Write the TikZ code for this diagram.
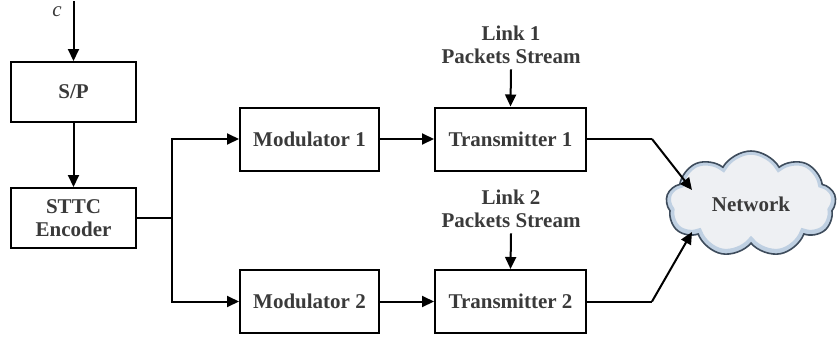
\documentclass[tikz,border=0pt]{standalone}
\usepackage{fontspec}
\setmainfont{Liberation Serif}
\usetikzlibrary{arrows.meta,shapes.symbols}
\definecolor{txt}{HTML}{3A3A3A}
\definecolor{cloudedge}{HTML}{3E4C5C}
\definecolor{cloudrim}{HTML}{BFD0E2}
\definecolor{cloudfill}{HTML}{EEF0F3}
\begin{document}
\begin{tikzpicture}[x=1pt,y=-1pt,
  every node/.style={font=\fontsize{21}{23.5}\selectfont\bfseries, text=txt},
  blockbox/.style={draw=black, line width=2pt, align=center, inner sep=0pt},
  conn/.style={line width=2pt, draw=black},
  arr/.style={conn, -{Triangle[length=12pt,width=11pt]}},
  cloudshape/.style={cloud, cloud puffs=9, cloud puff arc=120, aspect=1.75,
      minimum width=170pt, minimum height=106pt, inner sep=0pt}]
\useasboundingbox (0,0) rectangle (838,343);
% boxes
\node[blockbox, minimum width=125pt, minimum height=60pt] (sp) at (73.5,92) {S/P};
\node[blockbox, minimum width=125pt, minimum height=60pt] (enc) at (73.5,218) {STTC\\Encoder};
\node[blockbox, minimum width=139pt, minimum height=63pt] (mod1) at (309.5,139) {Modulator 1};
\node[blockbox, minimum width=139pt, minimum height=63pt] (mod2) at (309.5,301.5) {Modulator 2};
\node[blockbox, minimum width=151pt, minimum height=63pt] (tx1) at (510.5,139) {Transmitter 1};
\node[blockbox, minimum width=151pt, minimum height=63pt] (tx2) at (510.5,301.5) {Transmitter 2};
% labels
\node[font=\fontsize{21}{23.5}\selectfont\itshape] (c) at (57,12) {c};
\coordinate (cin) at (73.5,1);
\node[align=center, inner sep=0pt] (l1) at (511,45) {Link 1\\Packets Stream};
\node[align=center, inner sep=0pt] (l2) at (511,209) {Link 2\\Packets Stream};
% cloud
\node[cloudshape, fill=cloudfill, draw=cloudedge, line width=1.6pt,
      path picture={\node[cloudshape, draw=cloudrim, line width=9pt] at (path picture bounding box.center) {};}]
      (net) at (751,204) {Network};
% connectors
\draw[arr] (cin) -- (sp.north);
\draw[arr] (sp.south) -- (enc.north);
\coordinate (split) at (172,218);
\draw[conn] (enc.east) -- (split);
\draw[arr] (split) |- (mod1.west);
\draw[arr] (split) |- (mod2.west);
\draw[arr] (mod1.east) -- (tx1.west);
\draw[arr] (mod2.east) -- (tx2.west);
\draw[arr] (l1.south) ++(0,5) -- (tx1.north);
\draw[arr] (l2.south) ++(0,5) -- (tx2.north);
\coordinate (b1) at (652,139);
\coordinate (b2) at (652,301.5);
\coordinate (e1) at (692,190);
\coordinate (e2) at (692,232);
\draw[conn] (tx1.east) -- (b1);
\draw[arr] (b1) -- (e1);
\draw[conn] (tx2.east) -- (b2);
\draw[arr] (b2) -- (e2);
\end{tikzpicture}
\end{document}
